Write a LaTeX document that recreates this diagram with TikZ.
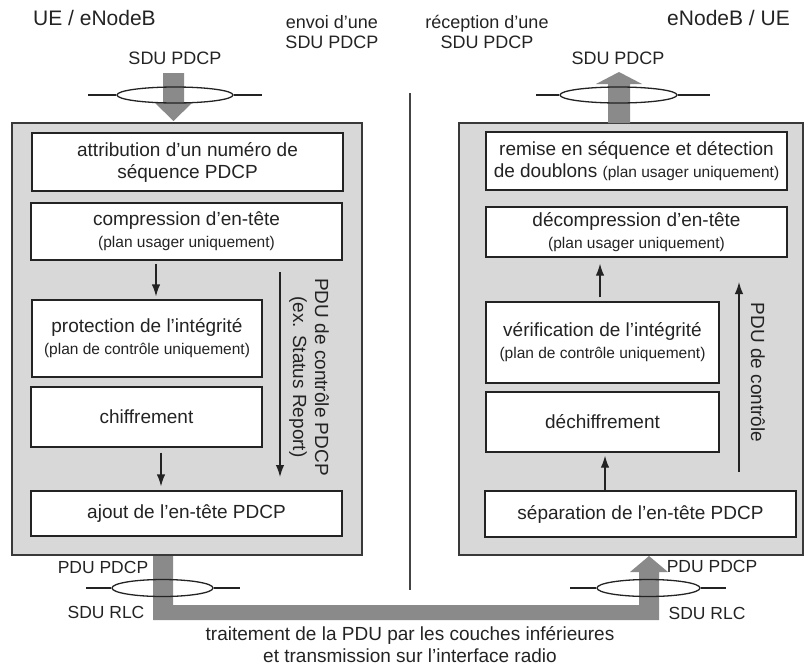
\documentclass[tikz,border=0pt]{standalone}
\usepackage{fontspec}
\setmainfont{Liberation Sans}
\usetikzlibrary{arrows.meta,shapes.geometric}

\definecolor{panel}{RGB}{216,216,216}
\definecolor{flow}{RGB}{138,138,138}
\definecolor{ink}{RGB}{35,35,35}

\newcommand{\bigtxt}{\fontsize{19}{22}\selectfont}
\newcommand{\smalltxt}{\fontsize{15.5}{19}\selectfont}
\newcommand{\lbltxt}{\fontsize{17.5}{20}\selectfont}

\begin{document}
\begin{tikzpicture}[x=1pt,y=-1pt,
  every node/.style={text=ink, inner sep=0pt},
  stage/.style={draw=ink, fill=white, line width=1.3pt, align=center, font=\bigtxt},
  panelbox/.style={draw=ink!90, fill=panel, line width=1.5pt},
  ring/.style={ellipse, draw=ink, line width=1.3pt},
  wire/.style={draw=ink, line width=1.3pt},
  flowarrow/.style={draw=ink, line width=1.3pt, -{Latex[length=12pt,width=8.5pt]}},
  lbl/.style={font=\lbltxt, align=center},
  note/.style={font=\bigtxt, align=center},
]
\useasboundingbox (0,0) rectangle (805,667);

% the two protocol entities
\node[panelbox, minimum width=350pt, minimum height=432pt] (PL) at (187,339) {};
\node[panelbox, minimum width=344pt, minimum height=432pt] (PR) at (631,339) {};

% separator between transmit and receive sides
\coordinate (d1) at (410,93);
\coordinate (d2) at (410,590);
\draw[draw=ink!85, line width=1.3pt] (d1) -- (d2);

% thick data paths
\fill[flow] (163,73) -- (184,73) -- (184,102) -- (193,102) -- (173.5,121) -- (154,102) -- (163,102) -- cycle;
\fill[flow] (608,123) -- (608,84) -- (596,84) -- (619,72) -- (642,84) -- (630,84) -- (630,123) -- cycle;
\fill[flow] (153,556) -- (153,620) -- (659,620) -- (659,572) -- (668,572) -- (649,556)
  -- (630,572) -- (639,572) -- (639,605) -- (173,605) -- (173,556) -- cycle;

% service access points
\node[ring, minimum width=116pt, minimum height=16pt] (eTL) at (175,95) {};
\coordinate (tl1) at (88,95);  \coordinate (tl2) at (262,95);
\draw[wire] (tl1) -- (eTL.west);  \draw[wire] (eTL.east) -- (tl2);

\node[ring, minimum width=117pt, minimum height=16pt] (eTR) at (618.5,95) {};
\coordinate (tr1) at (536,95);  \coordinate (tr2) at (710,95);
\draw[wire] (tr1) -- (eTR.west);  \draw[wire] (eTR.east) -- (tr2);

\node[ring, minimum width=101pt, minimum height=17pt] (eBL) at (162.5,588) {};
\coordinate (bl1) at (86,588);  \coordinate (bl2) at (240,588);
\draw[wire] (bl1) -- (eBL.west);  \draw[wire] (eBL.east) -- (bl2);

\node[ring, minimum width=103pt, minimum height=17pt] (eBR) at (648.5,588) {};
\coordinate (br1) at (570,588);  \coordinate (br2) at (726,588);
\draw[wire] (br1) -- (eBR.west);  \draw[wire] (eBR.east) -- (br2);

% headings
\node[anchor=west, font=\fontsize{21}{24}\selectfont] (hL) at (33,18) {UE / eNodeB};
\node[anchor=east, font=\fontsize{21}{24}\selectfont] (hR) at (790,18) {eNodeB / UE};
\node[lbl, font=\fontsize{18}{20}\selectfont] (sendtxt) at (332,32) {envoi d’une\\SDU PDCP};
\node[lbl, font=\fontsize{18}{20}\selectfont] (recvtxt) at (487,32) {réception d’une\\SDU PDCP};
\node[lbl, font=\fontsize{18}{20}\selectfont] (sduL) at (175,58) {SDU PDCP};
\node[lbl, font=\fontsize{18}{20}\selectfont] (sduR) at (618,58) {SDU PDCP};

% transmit side stages
\node[stage, minimum width=311pt, minimum height=58pt] (L1) at (187.5,162)
  {attribution d’un numéro de\\séquence PDCP};
\node[stage, minimum width=311pt, minimum height=57pt] (L2) at (186.5,231.5)
  {compression d’en-tête\\{\smalltxt (plan usager uniquement)}};
\node[stage, minimum width=230pt, minimum height=77pt] (L3) at (147,338.5)
  {protection de l’intégrité\\{\smalltxt (plan de contrôle uniquement)}};
\node[stage, minimum width=231pt, minimum height=60pt] (L4) at (146.5,417)
  {chiffrement};
\node[stage, minimum width=311pt, minimum height=45pt] (L5) at (186.5,513.5)
  {ajout de l’en-tête PDCP};

\coordinate (xa) at (156,0);
\coordinate (xb) at (161,0);
\draw[flowarrow, shorten <=3pt, shorten >=3pt] (L2.south -| xa) -- (L3.north -| xa);
\draw[flowarrow, shorten <=5pt, shorten >=4pt] (L4.south -| xb) -- (L5.north -| xb);

\coordinate (cl1) at (280,272);
\coordinate (cl2) at (280,477);
\draw[flowarrow] (cl1) -- (cl2);
\node[note, rotate=-90] (ctlL) at (309,377) {PDU de contrôle PDCP\\(ex. Status Report)};

% receive side stages
\node[stage, minimum width=301pt, minimum height=58pt] (R1) at (636.5,161)
  {remise en séquence et détection\\de doublons {\smalltxt (plan usager uniquement)}};
\node[stage, minimum width=301pt, minimum height=50pt] (R2) at (636.5,232)
  {décompression d’en-tête\\{\smalltxt (plan usager uniquement)}};
\node[stage, minimum width=233pt, minimum height=81pt] (R3) at (602.5,342.5)
  {vérification de l’intégrité\\{\smalltxt (plan de contrôle uniquement)}};
\node[stage, minimum width=233pt, minimum height=60pt] (R4) at (602.5,422)
  {déchiffrement};
\node[stage, minimum width=311pt, minimum height=46pt] (R5) at (640.5,514)
  {séparation de l’en-tête PDCP};

\coordinate (xc) at (600,0);
\coordinate (xd) at (605,0);
\draw[flowarrow, shorten <=4pt, shorten >=6pt] (R3.north -| xc) -- (R2.south -| xc);
\draw[flowarrow, shorten >=3pt] (R5.north -| xd) -- (R4.south -| xd);

\coordinate (cr1) at (739,472);
\coordinate (cr2) at (739,282);
\draw[flowarrow] (cr1) -- (cr2);
\node[note, rotate=-90] (ctlR) at (758,372.5) {PDU de contrôle};

% lower layer labels
\node[lbl] (pduL) at (103,567) {PDU PDCP};
\node[lbl] (rlcL) at (106,612) {SDU RLC};
\node[lbl] (pduR) at (712,566) {PDU PDCP};
\node[lbl] (rlcR) at (707,613) {SDU RLC};

\node[note, font=\fontsize{19}{22}\selectfont] (radio) at (410,645)
  {traitement de la PDU par les couches inférieures\\et transmission sur l’interface radio};
\end{tikzpicture}
\end{document}
